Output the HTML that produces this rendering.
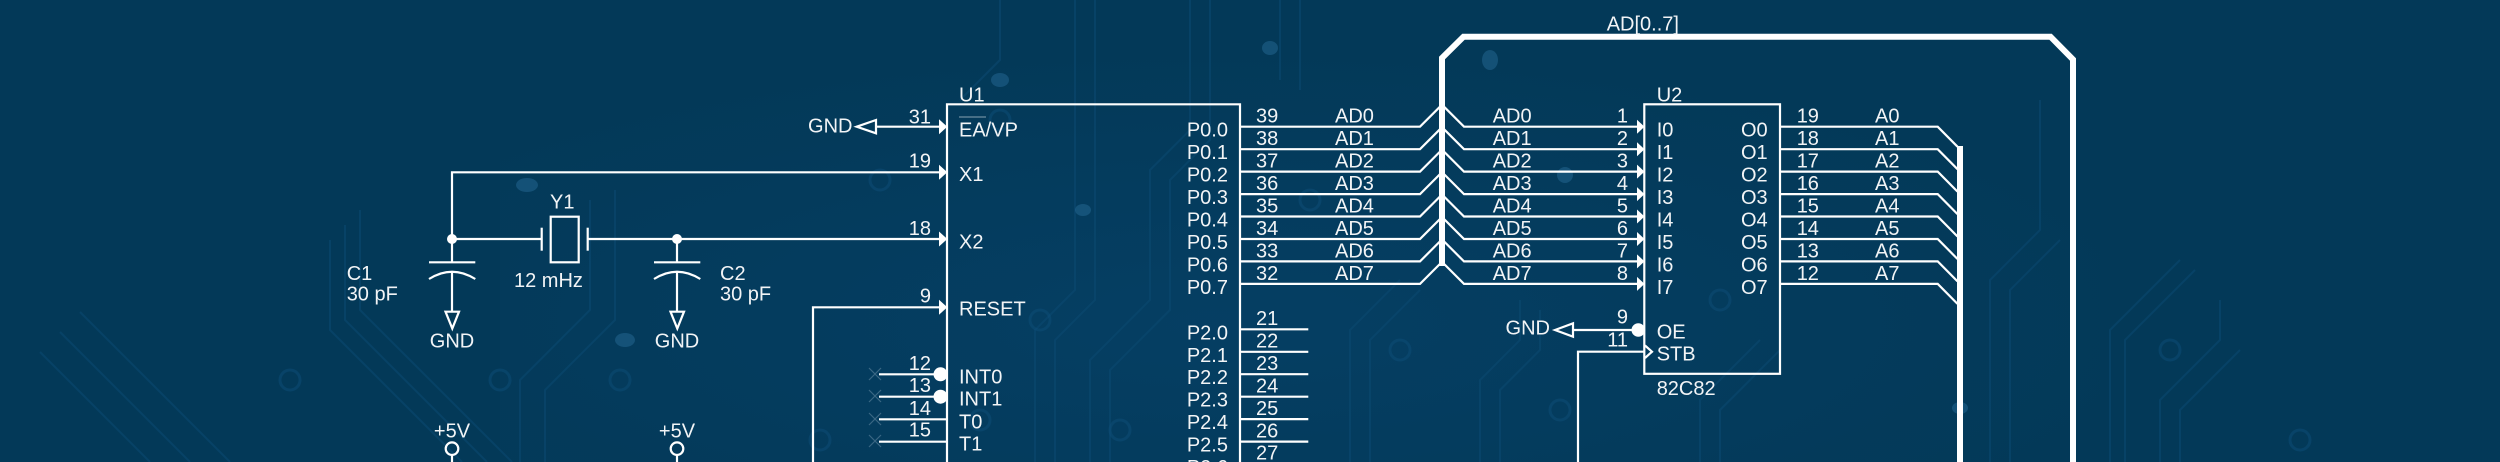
<!DOCTYPE html>
<html><head><meta charset="utf-8">
<style>
html,body{margin:0;padding:0;background:#033958;}
svg{display:block;}
text{font-family:"Liberation Sans",Arial,sans-serif;font-size:20px;fill:#f2f4f6;}
</style></head>
<body>
<svg width="2500" height="462" viewBox="0 0 2500 462" xmlns="http://www.w3.org/2000/svg">
<defs>
<radialGradient id="bgGrad" cx="0.45" cy="0.7" r="0.6">
<stop offset="0" stop-color="#064066"/>
<stop offset="1" stop-color="#033958"/>
</radialGradient>
</defs>
<rect width="2500" height="462" fill="#033958"/>
<rect x="500" y="0" width="1600" height="462" fill="url(#bgGrad)" opacity="0.8"/>

<!-- faint pcb traces -->
<g fill="none" stroke="#0c4a72" stroke-width="2" opacity="0.55">
<path d="M150 462 L40 352"/><path d="M190 462 L60 332"/><path d="M230 462 L80 312"/>
<path d="M330 240 L330 330 L462 462"/><path d="M345 225 L345 320 L487 462"/><path d="M360 210 L360 310 L512 462"/>
<path d="M520 462 V380 L590 310 V200"/><path d="M545 462 V390 L615 320 V190"/>
<path d="M1035 462 V330 L1075 290 V0"/><path d="M1055 462 V340 L1095 300 V0"/>
<path d="M1090 462 V360 L1150 300 V170 L1190 130 V0"/><path d="M1110 462 V370 L1170 310 V180 L1210 140 V0"/>
<path d="M1350 462 V330 L1400 280"/><path d="M1370 462 V340 L1420 290"/>
<path d="M1480 462 V380 L1520 340 V300"/><path d="M1500 462 V390 L1540 350 V310"/>
<path d="M1700 462 V400 L1760 340"/><path d="M1720 462 V410 L1780 350"/>
<path d="M1990 462 V280 L2040 230 V100"/><path d="M2010 462 V290 L2060 240"/>
<path d="M2110 462 V330 L2180 260"/><path d="M2125 462 V340 L2195 270"/>
<path d="M2160 462 V400 L2220 340 V300"/><path d="M2180 462 V410 L2240 350"/>
<path d="M1000 0 V60 L960 100"/><path d="M1280 0 V80"/><path d="M1300 0 V90"/>
</g>
<g fill="none" stroke="#0d4d77" stroke-width="3" opacity="0.5">
<circle cx="1000" cy="120" r="10"/><circle cx="1040" cy="320" r="10"/><circle cx="980" cy="420" r="10"/>
<circle cx="1120" cy="430" r="10"/><circle cx="820" cy="440" r="10"/><circle cx="620" cy="380" r="10"/>
<circle cx="1310" cy="200" r="10"/><circle cx="1400" cy="350" r="10"/><circle cx="1560" cy="410" r="10"/>
<circle cx="1720" cy="300" r="10"/><circle cx="2170" cy="350" r="10"/><circle cx="2300" cy="440" r="10"/>
<circle cx="880" cy="180" r="10"/><circle cx="500" cy="380" r="10"/><circle cx="290" cy="380" r="10"/>
</g>
<g fill="#2a6f9c" opacity="0.45">
<ellipse cx="1000" cy="80" rx="9" ry="7"/><ellipse cx="527" cy="185" rx="11" ry="7"/>
<ellipse cx="625" cy="340" rx="10" ry="7"/><ellipse cx="1270" cy="48" rx="8" ry="7"/>
<ellipse cx="1490" cy="60" rx="8" ry="10"/><ellipse cx="1960" cy="408" rx="8" ry="6"/>
<ellipse cx="1083" cy="210" rx="8" ry="6"/><ellipse cx="1565" cy="175" rx="8" ry="8"/>
</g>

<!-- ============ SCHEMATIC ============ -->
<g fill="none" stroke="#ffffff" stroke-width="2.2" stroke-linejoin="miter">
<!-- X1 / X2 network -->
<path d="M452 239 V172.3 H940"/>
<path d="M452 239 H541.7"/>
<path d="M587.7 239 H940"/>
<line x1="541.7" y1="227.7" x2="541.7" y2="250.7"/>
<rect x="550.7" y="216.7" width="28" height="45.6"/>
<line x1="587.7" y1="227.7" x2="587.7" y2="250.7"/>
<!-- C1 -->
<line x1="452" y1="239" x2="452" y2="262.3"/>
<line x1="429" y1="262.3" x2="475.3" y2="262.3"/>
<path d="M429 279 Q452 264.4 475.3 279"/>
<line x1="452" y1="271.7" x2="452" y2="311.7"/>
<polygon points="445.5,311.7 459,311.7 452.3,328.5"/>
<!-- C2 -->
<line x1="677" y1="239" x2="677" y2="262.3"/>
<line x1="654" y1="262.3" x2="700.3" y2="262.3"/>
<path d="M654 279 Q677 264.4 700.3 279"/>
<line x1="677" y1="271.7" x2="677" y2="311.7"/>
<polygon points="670.5,311.7 684,311.7 677.3,328.5"/>
<!-- +5V -->
<circle cx="452" cy="448.7" r="6.3"/>
<line x1="452" y1="455" x2="452" y2="462"/>
<circle cx="677" cy="448.7" r="6.3"/>
<line x1="677" y1="455" x2="677" y2="462"/>
<!-- EA/VP GND -->
<polygon points="856.7,126.7 876,120 876,133.3"/>
<line x1="876" y1="126.7" x2="940" y2="126.7"/>
<!-- RESET -->
<path d="M813 462 V307.3 H940"/>
<!-- INT/T -->
<line x1="879" y1="374.3" x2="934" y2="374.3"/>
<line x1="879" y1="396.7" x2="934" y2="396.7"/>
<line x1="879" y1="419.3" x2="947" y2="419.3"/>
<line x1="879" y1="441.7" x2="947" y2="441.7"/>
<!-- U1 box -->
<path d="M947 470 V104.3 H1240 V470"/>
<!-- P0 wires with bus entries -->
<path d="M1240 126.7 H1420 L1440 106.7"/>
<path d="M1240 149.2 H1420 L1440 129.2"/>
<path d="M1240 171.6 H1420 L1440 151.6"/>
<path d="M1240 194.1 H1420 L1440 174.1"/>
<path d="M1240 216.5 H1420 L1440 196.5"/>
<path d="M1240 239 H1420 L1440 219"/>
<path d="M1240 261.4 H1420 L1440 241.4"/>
<path d="M1240 283.9 H1420 L1440 263.9"/>
<!-- P2 wires -->
<line x1="1240" y1="329.3" x2="1308.3" y2="329.3"/>
<line x1="1240" y1="351.8" x2="1308.3" y2="351.8"/>
<line x1="1240" y1="374.2" x2="1308.3" y2="374.2"/>
<line x1="1240" y1="396.7" x2="1308.3" y2="396.7"/>
<line x1="1240" y1="419.1" x2="1308.3" y2="419.1"/>
<line x1="1240" y1="441.6" x2="1308.3" y2="441.6"/>
<!-- bus to U2 inputs -->
<path d="M1444 106.7 L1464 126.7 H1638"/>
<path d="M1444 129.2 L1464 149.2 H1638"/>
<path d="M1444 151.6 L1464 171.6 H1638"/>
<path d="M1444 174.1 L1464 194.1 H1638"/>
<path d="M1444 196.5 L1464 216.5 H1638"/>
<path d="M1444 219 L1464 239 H1638"/>
<path d="M1444 241.4 L1464 261.4 H1638"/>
<path d="M1444 263.9 L1464 283.9 H1638"/>
<!-- U2 box -->
<rect x="1644.3" y="104.3" width="135.7" height="269.5"/>
<!-- OE -->
<polygon points="1555,330 1573,323.3 1573,336.7"/>
<line x1="1573" y1="330" x2="1632" y2="330"/>
<!-- STB -->
<path d="M1578 462 V351.7 H1644.3"/>
<polyline points="1645,345.5 1652,351.7 1645,358"/>
<!-- outputs -->
<path d="M1780 126.7 H1937.7 L1957.5 146.7"/>
<path d="M1780 149.2 H1937.7 L1957.5 169.2"/>
<path d="M1780 171.6 H1937.7 L1957.5 191.6"/>
<path d="M1780 194.1 H1937.7 L1957.5 214.1"/>
<path d="M1780 216.5 H1937.7 L1957.5 236.5"/>
<path d="M1780 239 H1937.7 L1957.5 259"/>
<path d="M1780 261.4 H1937.7 L1957.5 281.4"/>
<path d="M1780 283.9 H1937.7 L1957.5 303.9"/>
</g>

<!-- thick buses -->
<g fill="none" stroke="#ffffff" stroke-width="6" stroke-linejoin="miter">
<path d="M1442 266 V58 L1463.5 36.7 H2050.5 L2073 59.5 V470"/>
<path d="M1960 146 V470"/>
</g>

<!-- filled arrowheads / dots -->
<g fill="#ffffff" stroke="none">
<circle cx="452" cy="239" r="5"/>
<circle cx="677" cy="239" r="5"/>
<polygon points="939,119.2 947.3,126.7 939,134.2"/>
<polygon points="939,164.8 947.3,172.3 939,179.8"/>
<polygon points="939,231.5 947.3,239 939,246.5"/>
<polygon points="939,299.8 947.3,307.3 939,314.8"/>
<circle cx="940.5" cy="374.3" r="7"/>
<circle cx="940.5" cy="396.7" r="7"/>
<polygon points="1637,119.7 1644.5,126.7 1637,133.7"/>
<polygon points="1637,142.2 1644.5,149.2 1637,156.2"/>
<polygon points="1637,164.6 1644.5,171.6 1637,178.6"/>
<polygon points="1637,187.1 1644.5,194.1 1637,201.1"/>
<polygon points="1637,209.5 1644.5,216.5 1637,223.5"/>
<polygon points="1637,232 1644.5,239 1637,246"/>
<polygon points="1637,254.4 1644.5,261.4 1637,268.4"/>
<polygon points="1637,276.9 1644.5,283.9 1637,290.9"/>
<circle cx="1638.3" cy="330" r="6.8"/>
</g>

<!-- faint no-connect marks and overbar -->
<g stroke="#9fb8cc" stroke-width="1.2" opacity="0.35">
<path d="M869 368 L881 380 M881 368 L869 380"/>
<path d="M869 390 L881 402 M881 390 L869 402"/>
<path d="M869 413 L881 425 M881 413 L869 425"/>
<path d="M869 435 L881 447 M881 435 L869 447"/>
</g>
<line x1="959" y1="117" x2="986" y2="117" stroke="#c8d3dc" stroke-width="1.3" opacity="0.55"/>

<!-- ============ TEXT ============ -->
<!-- left components -->
<text x="346.7" y="280">C1</text>
<text x="346.7" y="300.7">30 pF</text>
<text x="720" y="280">C2</text>
<text x="720" y="300.7">30 pF</text>
<text x="550" y="208.3">Y1</text>
<text x="514" y="287">12 mHz</text>
<text x="452" y="347.7" text-anchor="middle">GND</text>
<text x="677" y="347.7" text-anchor="middle">GND</text>
<text x="452" y="437.3" text-anchor="middle">+5V</text>
<text x="677" y="437.3" text-anchor="middle">+5V</text>
<text x="852.5" y="132.3" text-anchor="end">GND</text>

<!-- U1 -->
<text x="959" y="101.7">U1</text>
<g text-anchor="end">
<text x="931" y="123.3">31</text>
<text x="931" y="167.7">19</text>
<text x="931" y="235">18</text>
<text x="931" y="302.3">9</text>
<text x="931" y="370">12</text>
<text x="931" y="392">13</text>
<text x="931" y="415">14</text>
<text x="931" y="436.7">15</text>
</g>
<text x="959" y="136.7">EA/VP</text>
<text x="959" y="181">X1</text>
<text x="959" y="248.3">X2</text>
<text x="959" y="315.5">RESET</text>
<text x="959" y="383.3">INT0</text>
<text x="959" y="405.7">INT1</text>
<text x="959" y="428.3">T0</text>
<text x="959" y="450.7">T1</text>
<g text-anchor="end">
<text x="1228" y="136.7">P0.0</text>
<text x="1228" y="159.2">P0.1</text>
<text x="1228" y="181.6">P0.2</text>
<text x="1228" y="204.1">P0.3</text>
<text x="1228" y="226.5">P0.4</text>
<text x="1228" y="249">P0.5</text>
<text x="1228" y="271.4">P0.6</text>
<text x="1228" y="293.9">P0.7</text>
<text x="1228" y="339.3">P2.0</text>
<text x="1228" y="361.8">P2.1</text>
<text x="1228" y="384.2">P2.2</text>
<text x="1228" y="406.7">P2.3</text>
<text x="1228" y="429.1">P2.4</text>
<text x="1228" y="451.6">P2.5</text>
<text x="1228" y="474">P2.6</text>
</g>
<g>
<text x="1256" y="122.7">39</text>
<text x="1256" y="145.2">38</text>
<text x="1256" y="167.6">37</text>
<text x="1256" y="190.1">36</text>
<text x="1256" y="212.5">35</text>
<text x="1256" y="235">34</text>
<text x="1256" y="257.4">33</text>
<text x="1256" y="279.9">32</text>
<text x="1256" y="325">21</text>
<text x="1256" y="347.5">22</text>
<text x="1256" y="369.9">23</text>
<text x="1256" y="392.4">24</text>
<text x="1256" y="414.8">25</text>
<text x="1256" y="437.3">26</text>
<text x="1256" y="459.7">27</text>
</g>
<g>
<text x="1335" y="122.7">AD0</text>
<text x="1335" y="145.2">AD1</text>
<text x="1335" y="167.6">AD2</text>
<text x="1335" y="190.1">AD3</text>
<text x="1335" y="212.5">AD4</text>
<text x="1335" y="235">AD5</text>
<text x="1335" y="257.4">AD6</text>
<text x="1335" y="279.9">AD7</text>
<text x="1492.7" y="122.7">AD0</text>
<text x="1492.7" y="145.2">AD1</text>
<text x="1492.7" y="167.6">AD2</text>
<text x="1492.7" y="190.1">AD3</text>
<text x="1492.7" y="212.5">AD4</text>
<text x="1492.7" y="235">AD5</text>
<text x="1492.7" y="257.4">AD6</text>
<text x="1492.7" y="279.9">AD7</text>
</g>
<text x="1606.7" y="30.7">AD[0..7]</text>

<!-- U2 -->
<text x="1656.7" y="101.7">U2</text>
<g text-anchor="end">
<text x="1628" y="122.7">1</text>
<text x="1628" y="145.2">2</text>
<text x="1628" y="167.6">3</text>
<text x="1628" y="190.1">4</text>
<text x="1628" y="212.5">5</text>
<text x="1628" y="235">6</text>
<text x="1628" y="257.4">7</text>
<text x="1628" y="279.9">8</text>
<text x="1628" y="323.3">9</text>
<text x="1628" y="346.7">11</text>
<text x="1550" y="334.3">GND</text>
</g>
<g>
<text x="1656.7" y="136.7">I0</text>
<text x="1656.7" y="159.2">I1</text>
<text x="1656.7" y="181.6">I2</text>
<text x="1656.7" y="204.1">I3</text>
<text x="1656.7" y="226.5">I4</text>
<text x="1656.7" y="249">I5</text>
<text x="1656.7" y="271.4">I6</text>
<text x="1656.7" y="293.9">I7</text>
<text x="1656.7" y="338.3">OE</text>
<text x="1656.7" y="360.5">STB</text>
<text x="1656.7" y="395">82C82</text>
</g>
<g text-anchor="end">
<text x="1767.7" y="136.7">O0</text>
<text x="1767.7" y="159.2">O1</text>
<text x="1767.7" y="181.6">O2</text>
<text x="1767.7" y="204.1">O3</text>
<text x="1767.7" y="226.5">O4</text>
<text x="1767.7" y="249">O5</text>
<text x="1767.7" y="271.4">O6</text>
<text x="1767.7" y="293.9">O7</text>
</g>
<g>
<text x="1796.7" y="122.7">19</text>
<text x="1796.7" y="145.2">18</text>
<text x="1796.7" y="167.6">17</text>
<text x="1796.7" y="190.1">16</text>
<text x="1796.7" y="212.5">15</text>
<text x="1796.7" y="235">14</text>
<text x="1796.7" y="257.4">13</text>
<text x="1796.7" y="279.9">12</text>
<text x="1875" y="122.7">A0</text>
<text x="1875" y="145.2">A1</text>
<text x="1875" y="167.6">A2</text>
<text x="1875" y="190.1">A3</text>
<text x="1875" y="212.5">A4</text>
<text x="1875" y="235">A5</text>
<text x="1875" y="257.4">A6</text>
<text x="1875" y="279.9">A7</text>
</g>
</svg>
</body></html>
